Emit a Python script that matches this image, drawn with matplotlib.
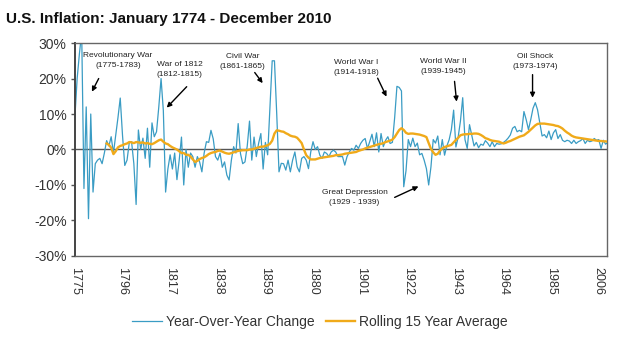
import numpy as np
import matplotlib
matplotlib.use("Agg")
import matplotlib.pyplot as plt

plt.rcParams['font.family'] = ['Liberation Sans', 'DejaVu Sans']

# Year-over-year change, one value per year, 1775-2010
yoy_start = 1775
yoy = [
    9, 20, 27, 33, -11, 12, -19.5, 10, -12, -4,            # 1775
    -3, -2.5, -4, -1, 2.5, 1, 3.6, -1, 4, 9,               # 1785
    14.5, 4, -4.5, -3, 2, 2.2, -4, -15.5, 5.5, 0,          # 1795
    3.2, -2.5, 6, -5, 7.5, 3.6, 5, 12, 20, 11,             # 1805
    -12, -5.5, -1.5, -5.5, -1, -8.5, -3, 3.5, -10, 0,      # 1815
    -5, -1, -2, -5, -2, -3.5, -6.3, -1, 2.2, 2,            # 1825
    5.4, 3, -2, -3, -1, -5, -3.5, -7.2, -8.6, -3,          # 1835
    0.8, -1, 7.3, -1.1, -4, -3.5, 1, 8, -3, 3.5,           # 1845
    -2, 1.7, 4.5, -5.5, 2, -1.5, 12, 25, 25, 10,           # 1855
    -6.3, -3.9, -4, -5.8, -3, -6.3, -3, -0.7, -4.9, -6.3,  # 1865
    -2.5, -2, -3, -5.4, -0.7, 2.2, 0, 0.8, -1.6, -2.5,     # 1875
    -0.7, -1.1, -2, -0.7, -0.2, -0.7, -2, -2, -2, -4.4,    # 1885
    -2, -0.7, 0.3, -0.2, 1.2, 0.3, 1.7, 2.6, 3.1, 0.3,     # 1895
    2.2, 4.3, 0.8, 4.7, -0.7, 4.5, 0.8, 2.6, 3.6, 1.7,     # 1905
    2, 9, 17.8, 17.5, 16.5, -10.5, -6, 2.8, 0.8, 3.2,      # 1915
    0.8, 1.8, -1.5, -1.1, -3, -5.4, -10, -4.9, 2.8, 1.8,   # 1925
    3.8, -1.5, 2.8, -1.6, 1, 2.7, 5.6, 11.1, 0.7, 3.5,     # 1935
    8, 14.6, 2.8, 0.3, 7, 4, 1, 2, 0.5, 1.5,               # 1945
    1.2, 2.5, 1.8, 0.8, 2.2, 0.8, 1.7, 1.5, 1.6, 2,        # 1955
    2.5, 3.2, 4.1, 6, 6.5, 5, 5.4, 5, 10.7, 8.4,           # 1965
    5.6, 8.4, 11.6, 13.2, 11.2, 7.5, 3.8, 4.2, 3.3, 5.2,   # 1975
    2.8, 4.7, 5.6, 3.1, 4.2, 2.6, 2.2, 2.6, 2.4, 1.7,      # 1985
    2.6, 1.7, 2.2, 2.5, 3.1, 1.7, 2.6, 2.2, 2.4, 3.1,      # 1995
    2.6, 2.8, 0.3, 2.6, 1.5, 2,                            # 2005
]

# Rolling 15 year average, 1789-2010
roll_start = 1789
rolling = [
    1.7, 1.3, 0.5, -1.3, -0.5, 0.6, 1.0, 1.2, 1.5, 1.7,
    2.1, 2.0, 1.8, 2.1, 2.0, 1.9, 2.0, 1.7, 1.8, 1.6,
    1.5, 1.8, 2.2, 2.6, 2.8, 2.2, 1.7, 1.5, 1.0, 0.6,
    0.3, 0.0, -0.5, -1.0, -1.0, -1.5, -1.5, -2.0, -2.8, -3.5,
    -3.2, -2.7, -2.4, -2.2, -1.8, -1.3, -1.0, -0.8, -0.7, -0.4,
    -0.3, -0.6, -0.9, -1.1, -1.2, -1.0, -0.8, -0.6, -0.4, -0.3,
    -0.2, -0.2, -0.2, 0.0, 0.0, 0.2, 0.4, 0.6, 0.8, 0.8,
    1.0, 1.2, 1.6, 2.5, 4.5, 5.4, 5.3, 5.1, 5.0, 4.6,
    4.3, 3.9, 3.7, 3.6, 3.3, 2.6, 1.8, 0.0, -1.6, -2.3,
    -2.8, -2.8, -2.8, -2.6, -2.4, -2.3, -2.2, -2.1, -2.0, -1.9,
    -1.8, -1.6, -1.6, -1.5, -1.4, -1.2, -1.1, -1.0, -0.9, -0.8,
    -0.7, -0.4, -0.2, 0.0, 0.3, 0.5, 0.7, 0.9, 1.1, 1.3,
    1.5, 1.6, 1.8, 2.1, 2.3, 2.5, 2.8, 3.5, 4.5, 5.5,
    6.0, 5.5, 4.7, 4.4, 4.5, 4.5, 4.4, 4.3, 4.2, 4.0,
    3.8, 3.5, 1.8, 0.2, -0.8, -1.5, -1.2, -0.3, 0.3, 0.7,
    0.9, 1.1, 1.3, 2.0, 2.7, 3.3, 4.0, 4.2, 4.3, 4.3,
    4.4, 4.4, 4.5, 4.5, 4.4, 4.1, 3.7, 3.2, 3.0, 2.7,
    2.5, 2.4, 2.3, 2.2, 1.9, 1.7, 1.9, 2.2, 2.4, 2.7,
    3.0, 3.3, 3.6, 3.8, 4.0, 4.5, 5.0, 5.6, 6.2, 6.8,
    7.2, 7.3, 7.3, 7.3, 7.2, 7.1, 7.0, 6.9, 6.7, 6.6,
    6.3, 5.9, 5.3, 4.8, 4.4, 3.9, 3.6, 3.4, 3.3, 3.2,
    3.1, 3.0, 2.9, 2.8, 2.7, 2.6, 2.5, 2.4, 2.4, 2.3,
    2.3, 2.2,
]

tick_years = [1775, 1796, 1817, 1838, 1859, 1880, 1901, 1922, 1943, 1964, 1985, 2006]
y_ticks = [-30, -20, -10, 0, 10, 20, 30]

# (label, text x, text y, arrow tail x, tail y, arrow head x, head y)
events = [
    ("Revolutionary War\n(1775-1783)", 1794, 25.2, 1785.5, 20.0, 1782.5, 16.3),
    ("War of 1812\n(1812-1815)", 1821.3, 22.5, 1824.3, 17.7, 1815.5, 11.8),
    ("Civil War\n(1861-1865)", 1849, 24.9, 1854.3, 21.7, 1857.8, 18.7),
    ("World War I\n(1914-1918)", 1899.2, 23.2, 1908.5, 20.1, 1912.4, 14.9),
    ("World War II\n(1939-1945)", 1937.6, 23.4, 1942.4, 19.2, 1943.3, 13.5),
    ("Oil Shock\n(1973-1974)", 1978.1, 24.9, 1976.8, 21.1, 1976.8, 14.6),
    ("Great Depression\n(1929 - 1939)", 1898.3, -13.5, 1916, -13.5, 1926.5, -10.4),
]

blue = '#3a9cc4'
gold = '#f0aa1a'

yoy_years = np.arange(yoy_start, yoy_start + len(yoy))
roll_years = np.arange(roll_start, roll_start + len(rolling))

fig = plt.figure(figsize=(6.4, 3.53), dpi=100)
ax = fig.add_axes([0.117, 0.275, 0.831, 0.603])

ax.axhline(0, color='#555555', lw=1.0, zorder=1)
ax.plot(yoy_years, yoy, color=blue, lw=0.9, label='Year-Over-Year Change', zorder=2)
ax.plot(roll_years, rolling, color=gold, lw=1.7, label='Rolling 15 Year Average', zorder=3)

ax.set_xlim(1775, 2009.5)
ax.set_ylim(-30, 30)
ax.set_xticks(tick_years)
ax.set_xticklabels([str(y) for y in tick_years], rotation=-90, fontsize=9, color='#333333')
ax.set_yticks(y_ticks)
ax.set_yticklabels(['%d%%' % v for v in y_ticks], fontsize=10, color='#333333')
ax.tick_params(axis='x', length=0, pad=8)
ax.tick_params(axis='y', length=3, width=1, color='#555555', pad=3)
for s in ax.spines.values():
    s.set_color('#666666')
    s.set_linewidth(1.0)
ax.spines['left'].set_linewidth(1.4)
ax.spines['left'].set_color('#444444')

for label, tx, ty, ax0, ay0, ax1, ay1 in events:
    ax.text(tx, ty, label, fontsize=6, ha='center', va='center', color='#222222',
            linespacing=1.6)
    ax.annotate('', xy=(ax1, ay1), xytext=(ax0, ay0),
                arrowprops=dict(arrowstyle='-|>', color='black', lw=1.0,
                                mutation_scale=7, shrinkA=0, shrinkB=0))

fig.text(0.01, 0.945, 'U.S. Inflation: January 1774 - December 2010',
         fontsize=11, fontweight='bold', ha='left', va='center', color='#111111')

fig.legend(loc='center', bbox_to_anchor=(0.5, 0.088), ncol=2, frameon=False,
           fontsize=10, handlelength=2.1, columnspacing=0.8, handletextpad=0.3,
           labelcolor='#333333')

fig.savefig('out.png', dpi=100)
